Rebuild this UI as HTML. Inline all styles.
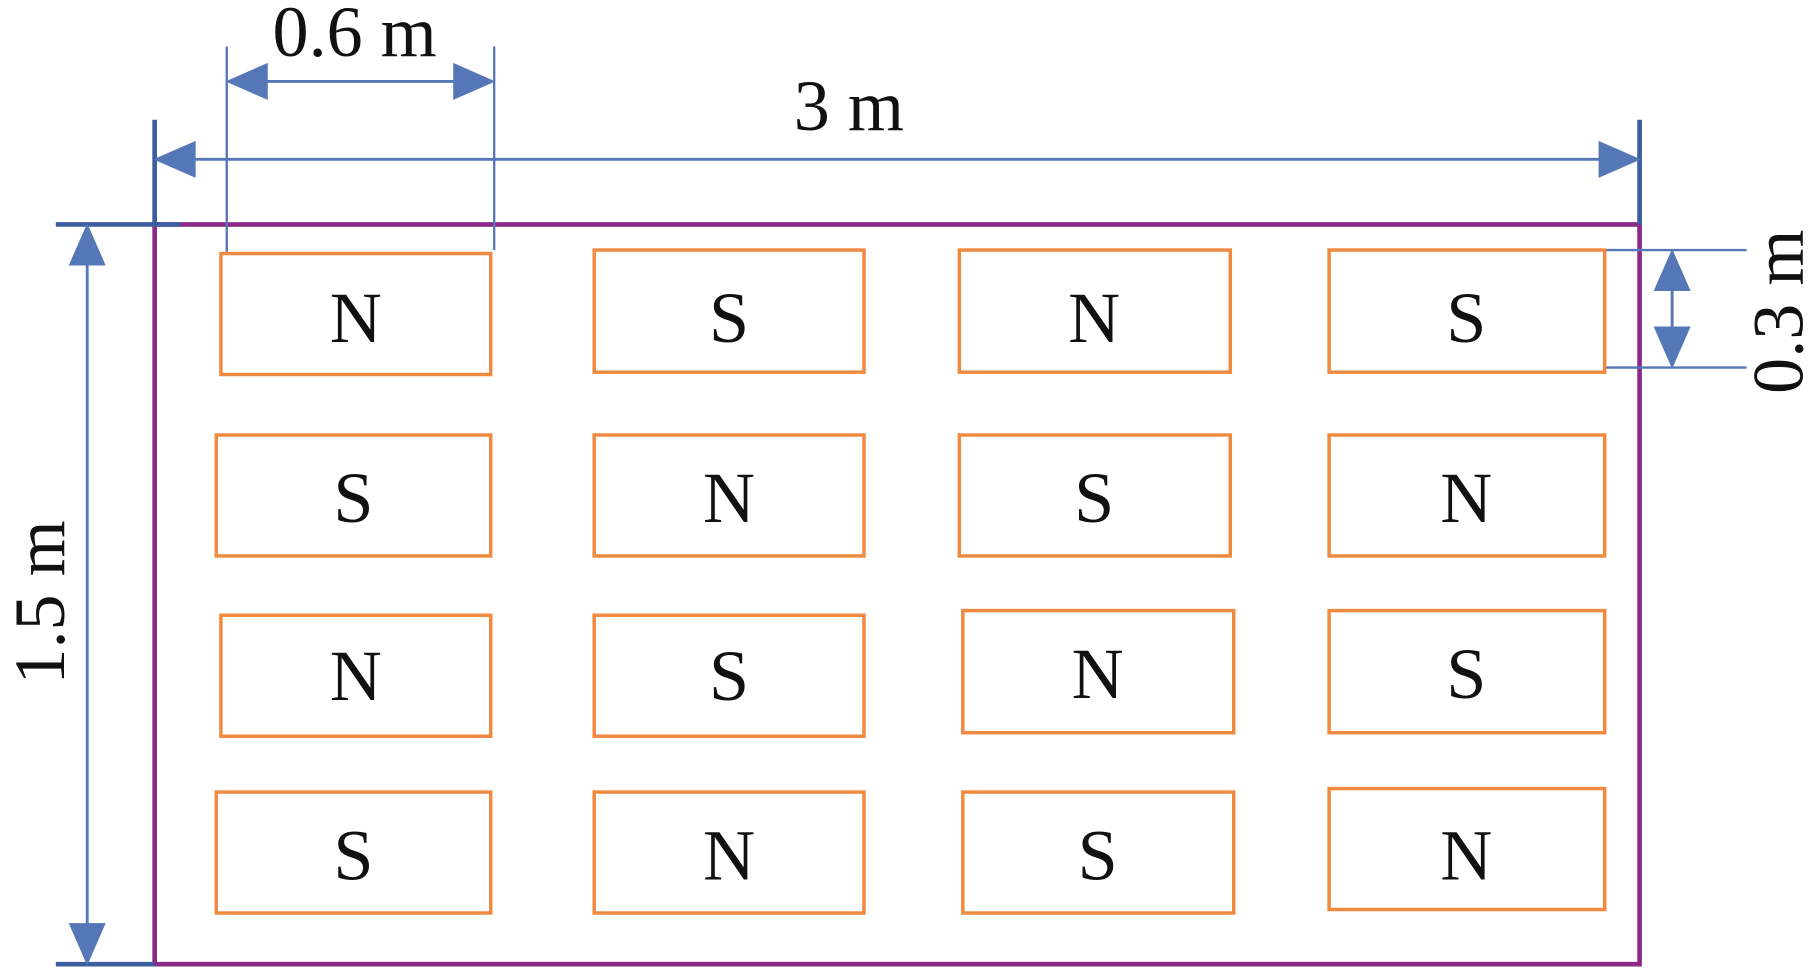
<!DOCTYPE html>
<html><head><meta charset="utf-8"><style>
html,body{margin:0;padding:0;background:#fff;}
svg{display:block;}
text{font-family:"Liberation Serif",serif;fill:#111;}
</style></head><body>
<svg width="1814" height="970" viewBox="0 0 1560 834" preserveAspectRatio="none" xmlns="http://www.w3.org/2000/svg">
<rect x="133" y="193" width="1277" height="636" fill="none" stroke="#8a2a86" stroke-width="4"/>
<g stroke="#3a5da0" stroke-width="4">
<line x1="133" y1="103" x2="133" y2="193"/>
<line x1="1410" y1="103" x2="1410" y2="193"/>
<line x1="48" y1="193" x2="155" y2="193"/>
<line x1="48" y1="829" x2="133" y2="829"/>
</g>
<g stroke="#5577b8" stroke-width="2">
<line x1="195" y1="40" x2="195" y2="218"/>
<line x1="425" y1="40" x2="425" y2="215"/>
<line x1="1380" y1="215" x2="1502" y2="215"/>
<line x1="1380" y1="316" x2="1502" y2="316"/>
</g>
<g stroke="#5577b8" stroke-width="2.5" fill="#5577b8">
<line x1="160" y1="137" x2="1383" y2="137"/>
<path d="M135,137 L167,123 L167,151 z"/><path d="M1408,137 L1376,123 L1376,151 z"/>
<line x1="220" y1="70" x2="400" y2="70"/>
<path d="M197,70 L229,56 L229,84 z"/><path d="M423,70 L391,56 L391,84 z"/>
<line x1="75" y1="220" x2="75" y2="802"/>
<path d="M75,195 L61,227 L89,227 z"/><path d="M75,827 L61,795 L89,795 z"/>
<line x1="1438" y1="240" x2="1438" y2="292"/>
<path d="M1438,217 L1424,249 L1452,249 z"/><path d="M1438,314 L1424,282 L1452,282 z"/>
</g>
<text x="305" y="48" font-size="62" text-anchor="middle">0.6 m</text>
<text x="730" y="112" font-size="62" text-anchor="middle">3 m</text>
<text transform="translate(55,518) rotate(-90)" font-size="62" text-anchor="middle">1.5 m</text>
<text transform="translate(1550,268) rotate(-90)" font-size="62" text-anchor="middle">0.3 m</text>
<g fill="none" stroke="#f08a40" stroke-width="3">
<rect x="190" y="218" width="232" height="104"/>
<rect x="511" y="215" width="232" height="105"/>
<rect x="825" y="215" width="233" height="105"/>
<rect x="1143" y="215" width="237" height="105"/>
<rect x="186" y="374" width="236" height="104"/>
<rect x="511" y="374" width="232" height="104"/>
<rect x="825" y="374" width="233" height="104"/>
<rect x="1143" y="374" width="237" height="104"/>
<rect x="190" y="529" width="232" height="104"/>
<rect x="511" y="529" width="232" height="104"/>
<rect x="828" y="525" width="233" height="105"/>
<rect x="1143" y="525" width="237" height="105"/>
<rect x="186" y="681" width="236" height="104"/>
<rect x="511" y="681" width="232" height="104"/>
<rect x="828" y="681" width="233" height="104"/>
<rect x="1143" y="678" width="237" height="104"/>
</g>
<g font-size="62" text-anchor="middle">
<text x="306" y="294">N</text><text x="627" y="294">S</text><text x="941" y="294">N</text><text x="1261" y="294">S</text>
<text x="304" y="449">S</text><text x="627" y="449">N</text><text x="941" y="449">S</text><text x="1261" y="449">N</text>
<text x="306" y="602">N</text><text x="627" y="602">S</text><text x="944" y="600">N</text><text x="1261" y="600">S</text>
<text x="304" y="756">S</text><text x="627" y="756">N</text><text x="944" y="756">S</text><text x="1261" y="756">N</text>
</g>
</svg>
</body></html>
